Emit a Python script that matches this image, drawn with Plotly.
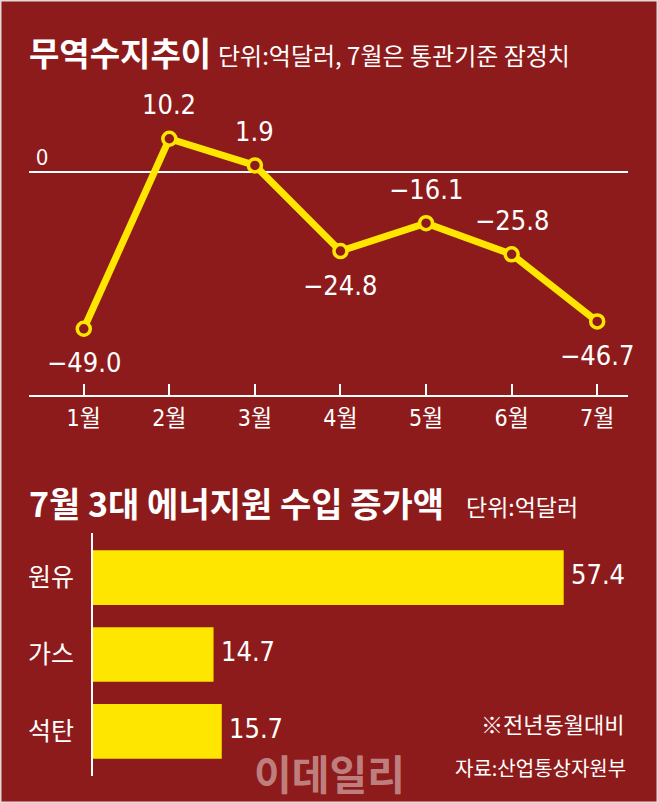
import plotly.graph_objects as go

# 무역수지 (억달러)
months = ["1월", "2월", "3월", "4월", "5월", "6월", "7월"]
balance = [-49.0, 10.2, 1.9, -24.8, -16.1, -25.8, -46.7]
label_side = ["below", "above", "above", "below", "above", "above", "below"]

# 7월 에너지원 수입 증가액 (억달러)
energy = ["원유", "가스", "석탄"]
increase = [57.4, 14.7, 15.7]

BG = "#8E1B1B"
YELLOW = "#FFE600"
W, H = 658, 803
KR = "Noto Sans CJK KR"
NUM = "Liberation Sans Narrow, DejaVu Sans Condensed, Noto Sans CJK KR"


def px_x(p):
    return p / W


def px_y(p):
    return 1 - p / H


def fmt(v):
    return f"{v:.1f}".replace("-", "−")


fig = go.Figure()

fig.add_trace(
    go.Scatter(
        x=list(range(len(months))),
        y=balance,
        mode="lines+markers",
        line=dict(color=YELLOW, width=7),
        marker=dict(size=13, color=BG, line=dict(color=YELLOW, width=3.5)),
        xaxis="x",
        yaxis="y",
        hoverinfo="skip",
    )
)

fig.add_trace(
    go.Bar(
        x=increase,
        y=energy,
        orientation="h",
        marker=dict(color=YELLOW, line=dict(width=0)),
        width=0.71,
        xaxis="x2",
        yaxis="y2",
        hoverinfo="skip",
    )
)

annotations = []
for i, (v, side) in enumerate(zip(balance, label_side)):
    annotations.append(
        dict(
            x=i, y=v, xref="x", yref="y",
            text=fmt(v), showarrow=False,
            yshift=34 if side == "above" else -34,
            font=dict(family=NUM, size=27, color="white"),
        )
    )

for name, v in zip(energy, increase):
    annotations.append(
        dict(
            x=v, y=name, xref="x2", yref="y2",
            text=fmt(v), showarrow=False,
            xanchor="left", yanchor="middle", xshift=6, yshift=3,
            borderpad=0,
            font=dict(family=NUM, size=27, color="white"),
        )
    )

texts = [
    ("<b>무역수지추이</b>", 27, 52, "left", 33),
    ("단위:억달러, 7월은 통관기준 잠정치", 216, 54, "left", 24),
    ("0", 34, 155, "left", 22),
    ("<b>7월 3대 에너지원 수입 증가액</b>", 27, 503, "left", 34),
    ("단위:억달러", 464, 506, "left", 23),
    ("※전년동월대비", 626, 723, "right", 22),
    ("자료:산업통상자원부", 628, 767, "right", 20),
]
for text, x, y, anchor, size in texts:
    annotations.append(
        dict(
            x=px_x(x), y=px_y(y), xref="paper", yref="paper",
            text=text, showarrow=False, xanchor=anchor, yanchor="middle",
            font=dict(family=KR, size=size, color="white"),
        )
    )

annotations.append(
    dict(
        x=px_x(329), y=px_y(772), xref="paper", yref="paper",
        text="<b>이데일리</b>", showarrow=False, xanchor="center", yanchor="middle",
        borderpad=0,
        font=dict(family=KR, size=41, color="rgba(255,255,255,0.45)"),
    )
)

fig.update_layout(
    width=W,
    height=H,
    margin=dict(l=0, r=0, t=0, b=0),
    paper_bgcolor=BG,
    plot_bgcolor="rgba(0,0,0,0)",
    showlegend=False,
    font=dict(family=KR, color="white"),
    xaxis=dict(
        domain=[px_x(29), px_x(628)],
        range=[-0.64, 6.36],
        tickmode="array",
        tickvals=list(range(len(months))),
        ticktext=months,
        ticks="inside",
        ticklen=11,
        tickwidth=2,
        tickcolor="white",
        showline=True,
        linecolor="white",
        linewidth=2,
        showgrid=False,
        zeroline=False,
        ticklabelstandoff=1,
        tickfont=dict(family=NUM, size=23, color="white"),
        fixedrange=True,
    ),
    yaxis=dict(
        domain=[px_y(395), px_y(85)],
        range=[-69.63, 26.95],
        showticklabels=False,
        showgrid=False,
        zeroline=True,
        zerolinecolor="white",
        zerolinewidth=2,
        fixedrange=True,
    ),
    xaxis2=dict(
        domain=[px_x(93), px_x(628)],
        range=[0, 65.24],
        anchor="y2",
        visible=False,
        fixedrange=True,
    ),
    yaxis2=dict(
        domain=[px_y(776), px_y(533)],
        anchor="x2",
        type="category",
        range=[2.58, -0.58],
        showline=True,
        linecolor="white",
        linewidth=2,
        showgrid=False,
        zeroline=False,
        ticks="",
        ticklabelstandoff=12,
        tickfont=dict(family=KR, size=25, color="white"),
        fixedrange=True,
    ),
    annotations=annotations,
    shapes=[
        dict(
            type="rect", xref="paper", yref="paper",
            x0=0, x1=1, y0=0, y1=1,
            line=dict(color="#E6D8D8", width=3),
            fillcolor="rgba(0,0,0,0)",
        )
    ],
)

fig.write_html(
    "out.html",
    config={"displayModeBar": False},
    post_script="document.body.style.margin='0';",
)
